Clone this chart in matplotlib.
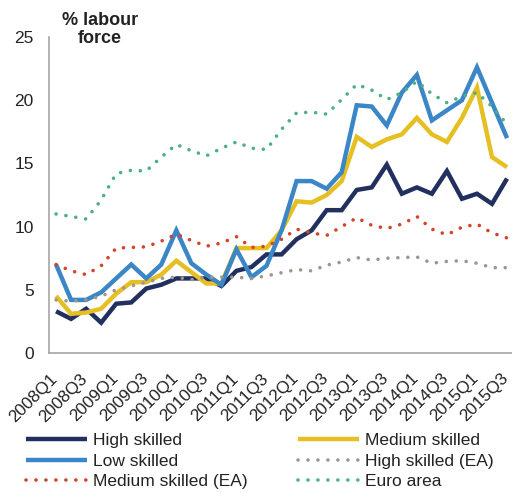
import matplotlib
matplotlib.use("Agg")
import matplotlib.pyplot as plt
import matplotlib.transforms as mtransforms
import numpy as np

plt.rcParams['font.family'] = ['Liberation Sans', 'DejaVu Sans']

quarters = [f"{y}Q{q}" for y in range(2008, 2016) for q in range(1, 5)][:31]

high_skilled = [3.3, 2.7, 3.5, 2.4, 3.9, 4.0, 5.1, 5.4, 5.9, 5.9, 5.9, 5.3, 6.5, 6.8, 7.8, 7.8,
                9.0, 9.7, 11.3, 11.3, 12.9, 13.1, 14.9, 12.6, 13.1, 12.6, 14.4, 12.2, 12.6, 11.8, 13.8]
medium_skilled = [4.5, 3.1, 3.2, 3.5, 4.7, 5.6, 5.6, 6.2, 7.3, 6.4, 5.5, 5.5, 8.3, 8.3, 8.3, 9.7,
                  12.0, 11.9, 12.5, 13.6, 17.1, 16.3, 16.9, 17.3, 18.6, 17.3, 16.7, 18.6, 21.0, 15.5, 14.7]
low_skilled = [7.0, 4.2, 4.2, 4.8, 5.9, 7.0, 5.9, 7.0, 9.7, 7.1, 6.2, 5.4, 8.2, 6.0, 6.9, 9.7,
               13.6, 13.6, 13.0, 14.3, 19.6, 19.5, 18.0, 20.6, 22.0, 18.4, 19.2, 20.0, 22.6, 19.8, 17.0]
high_skilled_ea = [4.2, 4.1, 4.2, 4.5, 5.0, 5.3, 5.6, 5.9, 6.0, 5.8, 6.0, 6.0, 6.0, 5.9, 6.1, 6.35,
                   6.6, 6.5, 6.95, 7.2, 7.55, 7.35, 7.5, 7.55, 7.6, 7.1, 7.25, 7.3, 7.1, 6.75, 6.75]
medium_skilled_ea = [7.0, 6.5, 6.2, 6.9, 8.3, 8.35, 8.4, 8.85, 9.4, 8.9, 8.45, 8.7, 9.2, 8.35, 8.45, 9.0,
                     9.8, 9.5, 9.3, 10.0, 10.7, 10.1, 9.85, 10.2, 10.8, 9.8, 9.35, 9.95, 10.2, 9.5, 9.1]
euro_area = [11.0, 10.8, 10.6, 12.1, 14.2, 14.45, 14.4, 15.5, 16.5, 16.0, 15.6, 16.2, 16.7, 16.2, 16.1, 17.7,
             19.0, 19.05, 18.9, 20.05, 21.25, 20.8, 20.05, 20.6, 21.5, 20.5, 19.8, 20.3, 20.6, 19.5, 18.1]

tick_labels = quarters[::2]

navy = "#22305F"
yellow = "#E6BF22"
blue = "#3A86C6"
grey = "#A2958E"
red = "#D5432A"
green = "#4BAF88"
text_col = "#222222"

fig = plt.figure(figsize=(5.12, 4.93), dpi=100)
ax = fig.add_axes([49 / 512, 140 / 493, 463 / 512, 316 / 493])

x = np.arange(len(quarters))
solid = dict(linewidth=3.2, solid_joinstyle="miter", solid_capstyle="butt")
dotted = dict(linewidth=2.6, linestyle=(0, (0.01, 2.75)), dash_capstyle="round")

l_high, = ax.plot(x, high_skilled, color=navy, label="High skilled", zorder=2, **solid)
l_med, = ax.plot(x, medium_skilled, color=yellow, label="Medium skilled", zorder=3, **solid)
l_low, = ax.plot(x, low_skilled, color=blue, label="Low skilled", zorder=4, **solid)
l_hea, = ax.plot(x, high_skilled_ea, color=grey, label="High skilled (EA)", zorder=5, **dotted)
l_mea, = ax.plot(x, medium_skilled_ea, color=red, label="Medium skilled (EA)", zorder=5, **dotted)
l_ea, = ax.plot(x, euro_area, color=green, label="Euro area", zorder=5, **dotted)

ax.set_xlim(-0.47, 30.33)
ax.set_ylim(0, 25)
ax.set_yticks([0, 5, 10, 15, 20, 25])
ax.set_xticks(x[::2])
ax.set_xticklabels(tick_labels, rotation=45, ha="right", va="top", rotation_mode="anchor",
                   fontsize=12.3, color=text_col)
ax.tick_params(axis="y", labelsize=12.5, colors=text_col, length=0, pad=11)
ax.tick_params(axis="x", length=0, pad=2)

# nudge the slanted quarter labels down and slightly left of their ticks
shift = mtransforms.ScaledTranslation(-6 / 100, -15 / 100, fig.dpi_scale_trans)
for lbl in ax.get_xticklabels():
    lbl.set_transform(lbl.get_transform() + shift)

for side in ("top", "right"):
    ax.spines[side].set_visible(False)
for side in ("left", "bottom"):
    ax.spines[side].set_color("#A6A6A6")
    ax.spines[side].set_linewidth(1.2)

fig.text(100 / 512, 1 - 29.5 / 493, "% labour\nforce", ha="center", va="center",
         fontsize=13, fontweight="bold", color=text_col, linespacing=1.05)

handles = [l_high, l_low, l_mea, l_med, l_hea, l_ea]
leg = fig.legend(handles=handles, labels=[h.get_label() for h in handles], ncol=2,
                 loc="lower left", bbox_to_anchor=(26 / 512, 4 / 493), frameon=False,
                 fontsize=12.5, handlelength=3.5, handletextpad=0.35, columnspacing=2.9,
                 labelspacing=0.3, borderaxespad=0, borderpad=0)
for t in leg.get_texts():
    t.set_color(text_col)

fig.savefig("out.png", dpi=100)
